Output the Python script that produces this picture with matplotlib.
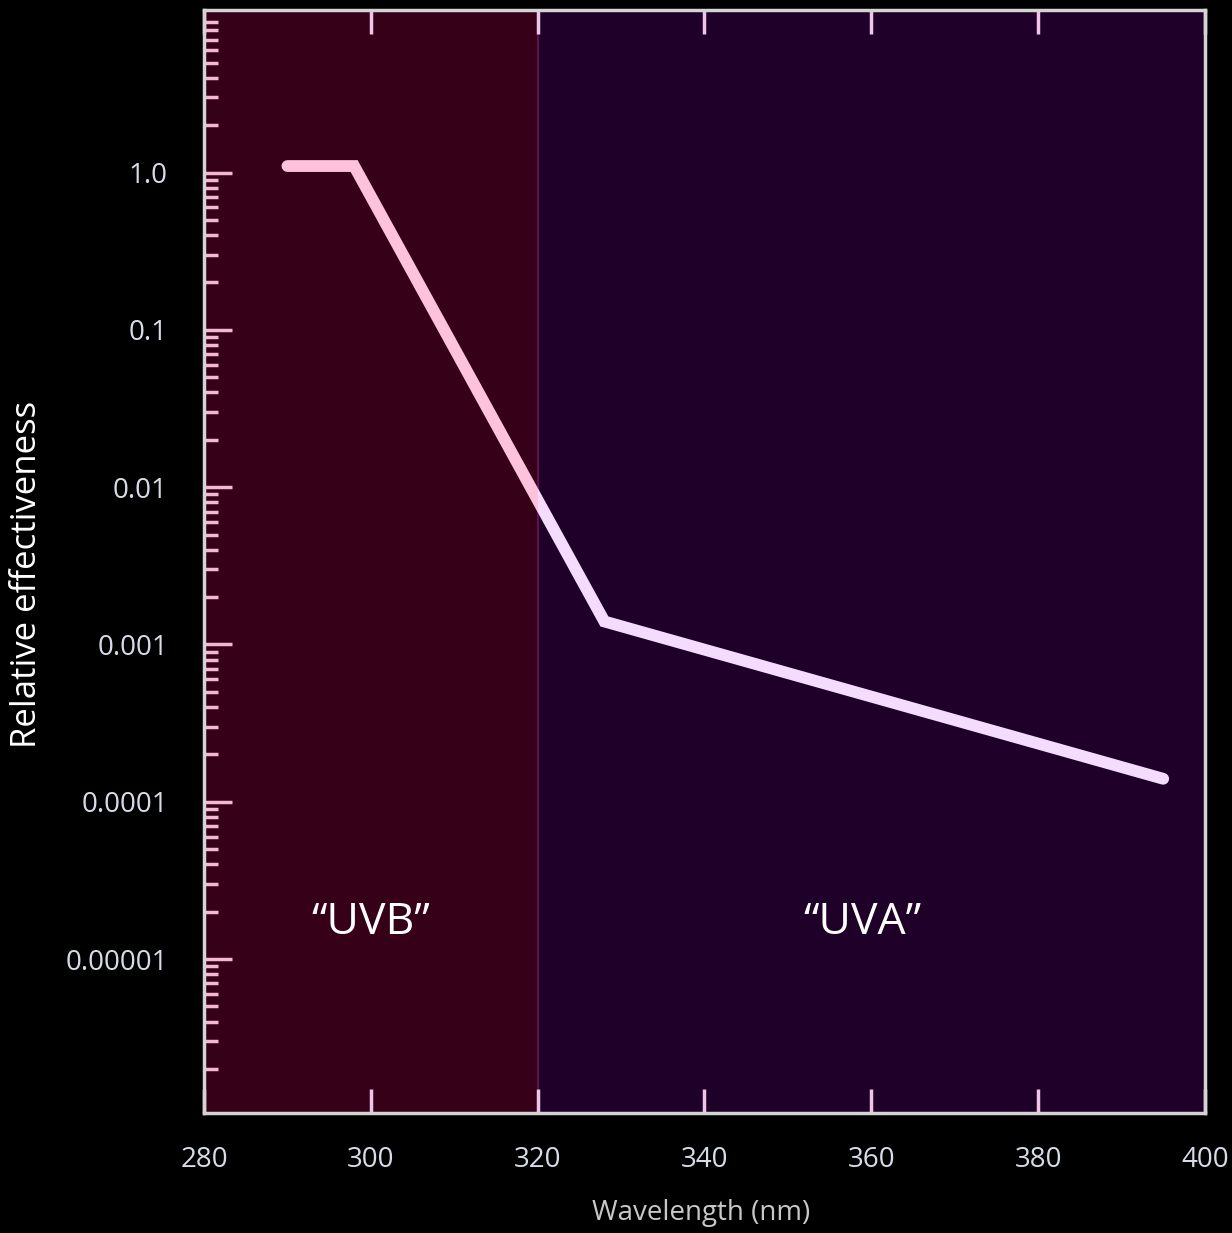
import matplotlib
matplotlib.use('Agg')
from matplotlib import pyplot as plt
from matplotlib import ticker

# Data
wavelength = [290, 298, 328, 395]
effectiveness = [1.1, 1.1, 0.0014, 0.00014]

ytick_vals = [1.0, 0.1, 0.01, 0.001, 0.0001, 0.00001]
ytick_labels = ['1.0', '0.1', '0.01', '0.001', '0.0001', '0.00001']
xtick_vals = [280, 300, 320, 340, 360, 380, 400]

uvb_range = (280, 320)
uva_range = (320, 400)
band_names = ['\u201cUVB\u201d', '\u201cUVA\u201d']
band_label_x = [300, 359]
band_label_y = 1.7e-5

plt.rcParams['font.family'] = ['Open Sans', 'DejaVu Sans']

fig = plt.figure(figsize=(12.32, 12.33), dpi=100, facecolor='black')
ax = fig.add_axes([0.1656, 0.0973, 0.978 - 0.1656, 0.9919 - 0.0973])
ax.set_facecolor('black')

# Shaded bands
uvb = ax.axvspan(*uvb_range, color='#350018', lw=0, zorder=0)
uva = ax.axvspan(*uva_range, color='#1e0028', lw=0, zorder=0)
ax.axvline(320, color='#6a1458', lw=1.2, zorder=1)

# Curve: pink in the UVB band, lavender in the UVA band
line_b, = ax.plot(wavelength, effectiveness, color='#ffc2dc', lw=8.5,
                  solid_capstyle='round', solid_joinstyle='miter', zorder=3)
line_b.set_clip_path(uvb)
line_a, = ax.plot(wavelength, effectiveness, color='#f5dcff', lw=8.5,
                  solid_capstyle='round', solid_joinstyle='miter', zorder=3)
line_a.set_clip_path(uva)

for name, xpos in zip(band_names, band_label_x):
    ax.text(xpos, band_label_y, name, color='white', fontsize=32,
            ha='center', va='center', zorder=4)

# Axes formatting
ax.set_yscale('log')
ax.set_xlim(280, 400)
ax.set_ylim(1.05e-6, 10.8)

ax.set_xticks(xtick_vals)
ax.set_yticks(ytick_vals)
ax.yaxis.set_major_formatter(ticker.FixedFormatter(ytick_labels))
ax.yaxis.set_minor_locator(ticker.LogLocator(base=10, subs=range(2, 10), numticks=20))
ax.yaxis.set_minor_formatter(ticker.NullFormatter())

ax.tick_params(axis='x', which='major', direction='in', top=True, bottom=True,
               length=17, width=2.5, color='#f0c4e8', labelcolor='#d8dce8',
               labelsize=20, pad=24)
ax.tick_params(axis='y', which='major', direction='in', left=True, right=False,
               length=20, width=2.5, color='#f4b8d4', labelcolor='#d8dce8',
               labelsize=20, pad=26)
ax.tick_params(axis='y', which='minor', direction='in', left=True, right=False,
               length=10, width=2.5, color='#f4b8d4')

for spine in ax.spines.values():
    spine.set_color('#d4d4d4')
    spine.set_linewidth(2.5)

ax.set_xlabel('Wavelength (nm)', color='#c8c8c8', fontsize=20)
ax.xaxis.set_label_coords(0.497, -0.078)
ax.set_ylabel('Relative effectiveness', color='white', fontsize=25)
ax.yaxis.set_label_coords(-0.160, 0.488)

fig.savefig('out.png', dpi=100, facecolor='black')
